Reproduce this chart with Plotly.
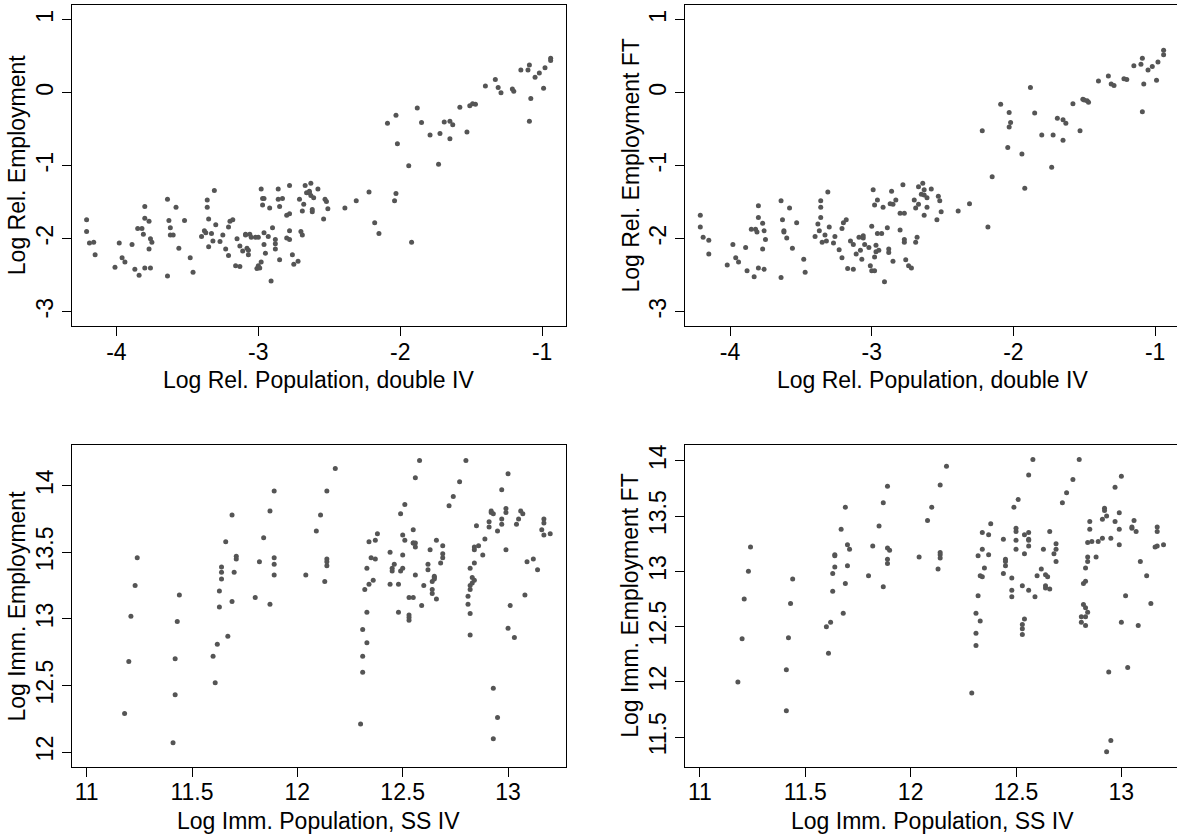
import plotly.graph_objects as go

# ---------------- data ----------------
p1_x = [-4.21,-4.21,-4.19,-4.16,-4.15,-4.01,-3.98,-3.96,-3.94,-3.89,
        -3.87,-3.85,-3.84,-3.82,-3.81,-3.80,-3.80,-3.80,-3.77,-3.77,
        -3.76,-3.75,-3.76,-3.64,-3.64,-3.63,-3.62,-3.62,-3.60,-3.58,
        -3.56,-3.52,-3.48,-3.46,-3.40,-3.38,-3.37,-3.36,-3.36,-3.35,
        -3.35,-3.33,-3.31,-3.32,-3.30,-3.27,-3.25,-3.23,-3.21,-3.21,
        -3.20,-3.18,-3.16,-3.15,-3.13,-3.13,-3.11,-3.09,-3.08,-3.09,
        -3.07,-3.07,-3.06,-3.05,-3.02,-3.01,-3.00,-3.00,-2.99,-2.98,
        -2.98,-2.97,-2.97,-2.96,-2.96,-2.96,-2.95,-2.93,-2.92,-2.91,
        -2.90,-2.88,-2.88,-2.88,-2.86,-2.86,-2.85,-2.85,-2.83,-2.80,-2.80,
        -2.78,-2.78,-2.78,-2.78,-2.76,-2.75,-2.72,-2.71,-2.69,-2.70,
        -2.69,-2.68,-2.67,-2.66,-2.64,-2.63,-2.63,-2.64,-2.62,-2.62,
        -2.61,-2.58,-2.54,-2.53,-2.52,-2.51,-2.39,-2.31,-2.22,-2.18,
        -2.15,-2.09,-2.04,-2.03,-2.03,-2.02,-1.94,-1.92,-1.88,-1.85,
        -1.79,-1.73,-1.72,-1.69,-1.65,-1.65,-1.63,-1.58,-1.53,-1.51,
        -1.49,-1.47,-1.40,-1.33,-1.31,-1.29,-1.21,-1.20,-1.15,-1.10,
        -1.09,-1.09,-1.08,-1.05,-1.02,-0.99,-0.98,-0.94,-0.94]
p1_y = [-1.74,-1.90,-2.06,-2.05,-2.22,-2.39,-2.06,-2.26,-2.32,-2.08,
        -2.42,-1.86,-2.50,-1.86,-1.94,-1.72,-1.56,-2.40,-1.76,-2.14,
        -2.00,-2.05,-2.40,-1.46,-2.51,-1.75,-1.85,-1.95,-1.95,-1.57,
        -2.13,-1.75,-2.26,-2.46,-1.97,-1.89,-1.92,-1.47,-1.57,-1.73,
        -2.11,-1.93,-1.34,-2.03,-1.81,-2.04,-1.95,-2.14,-2.23,-1.84,
        -1.76,-1.74,-2.37,-2.00,-2.10,-2.38,-2.17,-1.94,-2.13,-1.95,
        -2.16,-2.22,-1.94,-1.98,-1.98,-2.41,-2.37,-1.98,-2.40,-1.32,
        -2.32,-1.54,-1.45,-1.45,-2.08,-1.92,-2.20,-1.97,-1.58,-2.58,
        -1.85,-2.07,-2.01,-2.14,-1.46,-1.32,-1.56,-2.29,-1.45,-1.68,-1.99,
        -1.27,-1.66,-1.89,-2.01,-2.22,-2.35,-2.31,-1.46,-1.62,-1.90,
        -1.95,-1.53,-1.27,-1.37,-1.37,-1.41,-1.24,-1.35,-1.63,-1.60,
        -1.44,-1.32,-1.73,-1.46,-1.49,-1.59,-1.58,-1.48,-1.36,-1.78,
        -1.93,-0.42,-1.48,-0.31,-1.38,-0.70,-1.00,-2.05,-0.21,-0.41,
        -0.58,-0.98,-0.56,-0.40,-0.39,-0.63,-0.44,-0.20,-0.54,-0.18,
        -0.15,-0.16,0.09,0.18,0.07,0.00,0.05,0.02,0.31,0.31,
        0.38,-0.39,-0.08,0.21,0.27,0.06,0.34,0.47,0.44]

p2_x = [-4.21,-4.21,-4.19,-4.15,-4.15,-4.02,-3.98,-3.96,-3.94,-3.89,
        -3.88,-3.85,-3.83,-3.82,-3.81,-3.80,-3.80,-3.80,-3.77,-3.77,
        -3.76,-3.76,-3.75,-3.64,-3.64,-3.63,-3.62,-3.62,-3.60,-3.58,
        -3.56,-3.53,-3.48,-3.47,-3.40,-3.38,-3.37,-3.36,-3.36,-3.36,
        -3.35,-3.33,-3.32,-3.30,-3.31,-3.27,-3.26,-3.23,-3.21,-3.21,
        -3.20,-3.18,-3.17,-3.15,-3.13,-3.13,-3.11,-3.09,-3.08,-3.07,
        -3.06,-3.06,-3.05,-3.02,-3.01,-3.00,-2.99,-3.00,-2.98,-2.98,
        -2.98,-2.97,-2.97,-2.96,-2.96,-2.95,-2.93,-2.92,-2.91,-2.89,
        -2.88,-2.88,-2.87,-2.86,-2.85,-2.85,-2.83,-2.80,-2.80,-2.77,
        -2.77,-2.77,-2.78,-2.76,-2.74,-2.72,-2.70,-2.69,-2.69,-2.68,
        -2.67,-2.67,
        -2.65,-2.64,-2.63,-2.63,-2.61,-2.61,-2.63,-2.58,-2.53,-2.52,
        -2.51,-2.54,-2.39,-2.31,-2.22,-2.18,-2.15,-2.09,-2.04,-2.03,
        -2.03,-2.02,-1.94,-1.92,-1.88,-1.85,-1.80,-1.73,-1.72,-1.69,
        -1.65,-1.65,-1.63,-1.58,-1.53,-1.51,-1.50,-1.48,-1.47,-1.40,
        -1.33,-1.31,-1.29,-1.22,-1.20,-1.15,-1.10,-1.09,-1.09,-1.08,
        -1.05,-1.02,-0.99,-0.98,-0.94,-0.94]
p2_y = [-1.68,-1.84,-1.98,-2.02,-2.21,-2.36,-2.08,-2.26,-2.32,-2.12,
        -2.44,-1.87,-2.52,-1.87,-1.91,-1.71,-1.55,-2.40,-1.79,-2.14,
        -1.89,-2.42,-2.01,-1.48,-2.53,-1.74,-1.89,-1.91,-1.99,-1.58,
        -2.13,-1.78,-2.28,-2.46,-1.97,-1.80,-1.89,-1.48,-1.57,-1.71,
        -2.05,-1.95,-2.03,-1.84,-1.36,-2.06,-1.97,-2.15,-1.86,-2.26,
        -1.78,-1.74,-2.41,-2.03,-2.08,-2.42,-2.21,-1.98,-2.16,-2.28,
        -1.96,-1.99,-2.08,-2.12,-2.37,-1.83,-1.33,-2.44,-2.25,-2.44,
        -1.54,-2.09,-2.18,-1.93,-1.47,-2.16,-1.93,-1.57,-2.59,-1.85,
        -2.14,-2.19,-1.52,-1.35,-2.31,-1.53,-1.47,-1.65,-1.88,-1.65,
        -2.01,-2.05,-1.26,-2.29,-2.37,-2.40,-1.47,-2.05,-1.58,-1.98,
        -1.53,-1.29,
        -1.39,-1.24,-1.33,-1.40,-1.44,-1.57,-1.68,-1.32,-1.42,-1.48,
        -1.63,-1.74,-1.62,-1.52,-0.52,-1.84,-1.15,-0.16,-0.75,-0.27,
        -0.47,-0.41,-0.84,-1.31,0.07,-0.28,-0.58,-1.02,-0.58,-0.35,
        -0.37,-0.65,-0.42,-0.15,-0.52,-0.09,-0.10,-0.11,-0.13,0.16,
        0.23,0.12,0.10,0.19,0.18,0.37,0.39,0.47,-0.26,0.12,
        0.31,0.36,0.17,0.42,0.58,0.52]

p3_x = [11.18,11.20,11.21,11.23,11.24,11.41,11.42,11.42,11.43,11.44,
        11.60,11.61,11.62,11.63,11.63,11.64,11.64,11.64,11.66,11.67,
        11.69,11.69,11.70,11.71,11.71,11.80,11.82,11.84,11.87,11.87,
        11.89,11.89,11.89,11.89,
        12.04,12.09,12.11,12.13,12.14,12.14,12.14,12.14,12.18,12.30,
        12.31,12.31,12.31,12.32,12.33,12.33,12.33,12.34,12.34,12.35,
        12.36,12.37,12.37,12.38,12.44,12.44,12.45,12.45,12.46,12.48,
        12.48,12.49,12.49,12.50,12.50,12.50,12.51,12.51,12.53,12.53,
        12.53,12.53,12.55,12.55,12.55,12.55,12.56,12.56,12.56,12.56,
        12.58,12.59,12.60,12.62,12.62,12.63,12.64,12.64,12.64,12.65,
        12.65,12.65,12.66,12.66,12.68,12.69,12.69,12.69,12.72,12.74,
        12.77,12.80,12.81,12.81,12.82,12.82,12.82,12.82,12.82,12.83,
        12.84,12.83,12.84,12.84,12.84,12.85,12.86,12.88,12.89,12.91,
        12.91,12.92,12.92,12.93,12.93,12.95,12.95,12.93,12.97,12.97,
        12.97,12.99,12.99,12.99,13.00,13.00,13.01,13.03,13.04,13.05,
        13.06,13.07,13.08,13.09,13.12,13.14,13.16,13.17,13.17,13.17,
        13.20]
p3_y = [12.29,12.68,13.02,13.25,13.46,12.07,12.43,12.70,12.98,13.18,
        12.72,12.52,12.81,13.21,13.09,13.30,13.35,13.39,13.58,12.87,
        13.13,13.78,13.35,13.47,13.45,13.16,13.43,13.61,13.81,13.11,
        13.96,13.46,13.41,13.33,
        13.33,13.66,13.78,13.28,13.45,13.43,13.40,13.96,14.13,12.21,
        12.72,12.92,12.60,13.22,13.38,13.05,12.82,13.26,13.58,13.46,
        13.29,13.45,13.59,13.64,13.50,13.26,13.38,13.36,13.41,13.26,
        13.05,13.79,13.36,13.48,13.63,13.38,13.59,13.86,13.03,13.01,
        12.99,13.16,13.16,13.67,13.57,13.57,13.54,14.06,13.33,13.57,
        14.19,13.10,13.25,13.37,13.41,13.52,13.19,13.22,13.28,13.32,
        13.31,13.30,13.59,13.15,13.42,13.46,13.49,13.55,13.85,13.92,
        14.03,14.19,13.11,13.17,13.22,13.25,12.88,13.38,13.04,13.27,
        13.29,13.31,13.42,13.54,13.52,13.70,13.55,13.48,13.60,13.69,
        13.73,13.81,13.80,13.79,12.48,13.66,12.26,12.10,13.75,13.71,
        13.97,13.80,13.83,13.52,12.93,14.09,13.10,12.86,13.71,13.75,
        13.81,13.79,13.18,13.43,13.45,13.37,13.67,13.75,13.72,13.63,
        13.64]

p4_x = [11.18,11.20,11.21,11.23,11.24,11.41,11.41,11.42,11.43,11.44,
        11.60,11.61,11.62,11.63,11.63,11.64,11.64,11.64,11.67,11.68,
        11.69,11.69,11.70,11.70,11.71,11.80,11.82,11.85,11.87,11.87,
        11.89,11.89,11.89,11.89,11.90,12.04,
        12.08,12.10,12.13,12.14,12.14,12.14,12.14,12.17,12.29,12.31,
        12.31,12.31,12.32,12.32,12.33,12.33,12.34,12.34,12.34,12.35,
        12.37,12.37,12.38,12.44,12.44,12.45,12.45,12.45,12.48,12.48,
        12.48,12.49,12.50,12.50,12.50,12.50,12.51,12.53,12.53,12.53,
        12.53,12.54,12.54,12.54,12.56,12.56,12.56,12.56,12.56,12.56,
        12.58,12.59,12.60,
        12.62,12.63,12.64,12.64,12.64,12.65,12.66,12.66,12.68,12.69,
        12.69,12.69,12.72,12.74,12.77,12.80,12.81,12.81,12.82,12.83,
        12.83,12.83,12.84,12.83,12.82,12.83,12.84,12.84,12.84,12.85,
        12.85,12.86,12.88,12.89,12.91,12.91,12.92,12.92,12.93,12.94,
        12.95,12.95,12.93,12.97,12.97,12.99,12.99,12.99,13.00,13.00,
        13.02,13.03,13.05,13.05,13.06,13.07,13.08,13.09,13.12,13.14,
        13.16,13.17,13.17,13.17,13.20]
p4_y = [12.00,12.39,12.75,13.00,13.22,11.74,12.11,12.40,12.71,12.93,
        12.50,12.26,12.54,12.82,12.98,13.04,13.14,13.15,13.38,12.62,
        12.89,13.58,13.05,13.24,13.20,12.96,13.23,13.41,12.86,13.62,
        13.77,13.07,13.11,13.21,13.19,13.13,
        13.46,13.58,13.02,13.17,13.15,13.12,13.78,13.95,11.90,12.44,
        12.33,12.62,13.14,12.78,12.55,12.96,12.95,13.35,13.20,13.03,
        13.15,13.33,13.43,13.29,12.98,13.05,13.11,13.09,12.83,12.77,
        12.94,13.58,13.39,13.36,13.20,13.28,13.65,12.52,12.48,12.43,
        12.87,12.57,13.33,13.16,13.87,12.83,13.28,13.35,13.23,13.29,
        14.01,12.77,12.96,
        13.02,13.20,12.87,12.85,12.97,12.95,12.84,13.36,13.16,13.09,
        13.25,13.20,13.62,13.71,13.83,14.01,12.54,12.59,12.70,12.51,
        12.67,12.59,12.63,13.03,12.89,12.91,13.13,13.09,13.26,13.38,
        13.45,13.27,13.13,13.27,13.30,13.47,13.55,13.57,13.50,12.09,
        13.30,11.47,11.37,13.45,13.76,13.38,13.53,13.24,12.54,13.86,
        12.78,12.13,13.39,13.40,13.46,13.36,12.51,13.09,12.96,12.71,
        13.22,13.23,13.40,13.36,13.24]

rel_ticks = [-4, -3, -2, -1]
rel_ticktext = ["-4", "-3", "-2", "-1"]
relemp_ticks = [-3, -2, -1, 0, 1]
relemp_ticktext = ["-3", "-2", "-1", "0", "1"]
imm_ticks = [11, 11.5, 12, 12.5, 13]
imm_ticktext = ["11", "11.5", "12", "12.5", "13"]
immemp_ticks = [12, 12.5, 13, 13.5, 14]
immemp_ticktext = ["12", "12.5", "13", "13.5", "14"]
immft_ticks = [11.5, 12, 12.5, 13, 13.5, 14]
immft_ticktext = ["11.5", "12", "12.5", "13", "13.5", "14"]

xtitles = ["Log Rel. Population, double IV", "Log Rel. Population, double IV",
           "Log Imm. Population, SS IV", "Log Imm. Population, SS IV"]
ytitles = ["Log Rel. Employment", "Log Rel. Employment FT",
           "Log Imm. Employment", "Log Imm. Employment FT"]

# ---------------- layout ----------------
W, H = 1177, 837
FONT = "Liberation Sans, Arial, sans-serif"
FS = 23
DOT = "#555555"

def fx(p):
    return p / W

def fy(p):
    return 1 - p / H

dom_x = [[fx(71.7), fx(566)], [fx(685), 1.0], [fx(71.7), fx(566)], [fx(685), 1.0]]
dom_y = [[fy(326), fy(5)], [fy(326), fy(5)], [fy(766.7), fy(445)], [fy(766.7), fy(445)]]
rng_x = [[-4.315, -0.832], [-4.318, -0.8455], [10.929, 13.275], [10.929, 13.264]]
rng_y = [[-3.196, 1.201], [-3.196, 1.201], [11.890, 14.306], [11.234, 14.142]]
xt = [(rel_ticks, rel_ticktext)] * 2 + [(imm_ticks, imm_ticktext)] * 2
yt = [(relemp_ticks, relemp_ticktext)] * 2 + [(immemp_ticks, immemp_ticktext), (immft_ticks, immft_ticktext)]

data_x = [p1_x, p2_x, p3_x, p4_x]
data_y = [p1_y, p2_y, p3_y, p4_y]

fig = go.Figure()
layout = dict(
    width=W, height=H, margin=dict(l=0, r=0, t=0, b=0),
    paper_bgcolor="white", plot_bgcolor="white", showlegend=False,
    font=dict(family=FONT, size=FS, color="black"),
)
axis_common = dict(showline=True, mirror=True, linecolor="black", linewidth=1,
                   ticks="outside", ticklen=9, tickwidth=1, tickcolor="black",
                   showgrid=False, zeroline=False,
                   tickfont=dict(family=FONT, size=FS, color="black"))
annotations = []
for i in range(4):
    n = "" if i == 0 else str(i + 1)
    fig.add_trace(go.Scatter(x=data_x[i], y=data_y[i], mode="markers",
                             marker=dict(size=5, color=DOT, line=dict(width=0)),
                             xaxis="x" + n, yaxis="y" + n, hoverinfo="skip"))
    layout["xaxis" + n] = dict(axis_common, domain=dom_x[i], range=rng_x[i],
                               anchor="y" + n, tickmode="array",
                               tickvals=xt[i][0], ticktext=xt[i][1],
                               ticklabelstandoff=-4)
    layout["yaxis" + n] = dict(axis_common, domain=dom_y[i], range=rng_y[i],
                               anchor="x" + n, tickmode="array",
                               tickvals=yt[i][0], ticktext=yt[i][1], tickangle=-90)
    left = 71.7 if i % 2 == 0 else 685
    right = 566 if i % 2 == 0 else 1179
    bottom = 326 if i < 2 else 766.7
    top = 5 if i < 2 else 445
    annotations.append(dict(text=xtitles[i], xref="paper", yref="paper",
                            x=fx((left + right) / 2), y=fy(bottom + 54),
                            xanchor="center", yanchor="middle", showarrow=False,
                            font=dict(family=FONT, size=FS, color="black")))
    annotations.append(dict(text=ytitles[i], xref="paper", yref="paper",
                            x=fx(left - 55), y=fy((top + bottom) / 2),
                            xanchor="center", yanchor="middle", showarrow=False,
                            textangle=-90,
                            font=dict(family=FONT, size=FS, color="black")))
layout["annotations"] = annotations
fig.update_layout(**layout)
fig.write_html("out.html")
